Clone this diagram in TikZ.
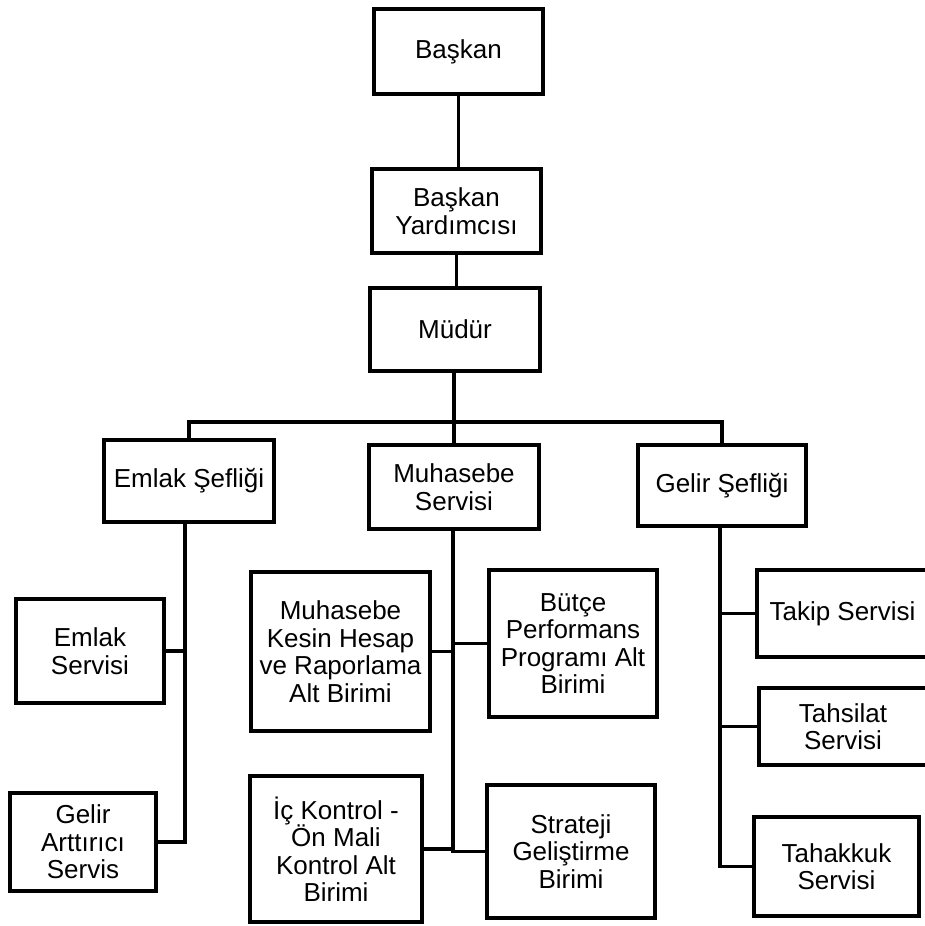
\documentclass[tikz,border=0pt]{standalone}
\usepackage{fontspec}
\setmainfont{Liberation Sans}
\tikzset{
  box/.style={draw, line width=4.2pt, align=center, inner sep=0pt,
    font=\fontsize{26}{27.5}\selectfont},
  link/.style={line width=3.8pt},
}
\begin{document}
\begin{tikzpicture}[x=1pt,y=-1pt]
\useasboundingbox (0,0) rectangle (924,926);
% top chain
\node[box, minimum width=169pt, minimum height=85pt] (baskan) at (458.5,51.5) {Başkan};
\node[box, minimum width=169pt, minimum height=84pt] (yard) at (456.5,211) {Başkan\\Yardımcısı};
\node[box, minimum width=170pt, minimum height=83pt] (mudur) at (455,329.5) {Müdür};
% second level
\node[box, minimum width=170pt, minimum height=82pt] (emlaksef) at (189,481) {Emlak Şefliği};
\node[box, minimum width=170pt, minimum height=84pt] (muhsrv) at (454,487) {Muhasebe\\Servisi};
\node[box, minimum width=168pt, minimum height=81pt] (gelirsef) at (722,485.5) {Gelir Şefliği};
% Emlak branch
\node[box, minimum width=148pt, minimum height=104pt] (emlaksrv) at (90,651) {Emlak\\Servisi};
\node[box, minimum width=146pt, minimum height=98pt] (gelirart) at (83,842) {Gelir\\Arttırıcı\\Servis};
% Muhasebe branch
\node[box, minimum width=179pt, minimum height=159pt] (mkesin) at (340.5,651.5) {Muhasebe\\Kesin Hesap\\ve Raporlama\\Alt Birimi};
\node[box, minimum width=168pt, minimum height=147pt] (butce) at (573,643.5) {Bütçe\\Performans\\Programı Alt\\Birimi};
\node[box, minimum width=172pt, minimum height=146pt] (ickontrol) at (336,849) {İç Kontrol -\\Ön Mali\\Kontrol Alt\\Birimi};
\node[box, minimum width=168pt, minimum height=133pt] (strateji) at (571,851.5) {Strateji\\Geliştirme\\Birimi};
% Gelir branch
\node[box, minimum width=171pt, minimum height=87pt] (takip) at (842.5,613.5) {Takip Servisi};
\node[box, minimum width=168pt, minimum height=77pt] (tahsilat) at (843,726.5) {Tahsilat\\Servisi};
\node[box, minimum width=165pt, minimum height=99pt] (tahakkuk) at (836.5,866.5) {Tahakkuk\\Servisi};
% connectors
\coordinate (bus) at (454,422);
\draw[link] (baskan.south) -- (baskan.south |- yard.north);
\draw[link] (yard.south) -- (yard.south |- mudur.north);
\draw[link] ([xshift=-1pt]mudur.south) -- (bus);
\draw[link] (emlaksef.north) |- (bus) -| (gelirsef.north);
\draw[link] (muhsrv.north) -- (bus);
\draw[link] ([xshift=-4pt]emlaksef.south) |- (emlaksrv.east);
\draw[link] ([xshift=-4pt]emlaksef.south) |- (gelirart.east);
\draw[link] ([xshift=-1pt]muhsrv.south) |- (mkesin.east);
\draw[link] ([xshift=-1pt]muhsrv.south) |- (butce.west);
\draw[link] ([xshift=-1pt]muhsrv.south) |- (ickontrol.east);
\draw[link] ([xshift=-1pt]muhsrv.south) |- (strateji.west);
\draw[link] ([xshift=-2pt]gelirsef.south) |- (takip.west);
\draw[link] ([xshift=-2pt]gelirsef.south) |- (tahsilat.west);
\draw[link] ([xshift=-2pt]gelirsef.south) |- (tahakkuk.west);
\end{tikzpicture}
\end{document}
